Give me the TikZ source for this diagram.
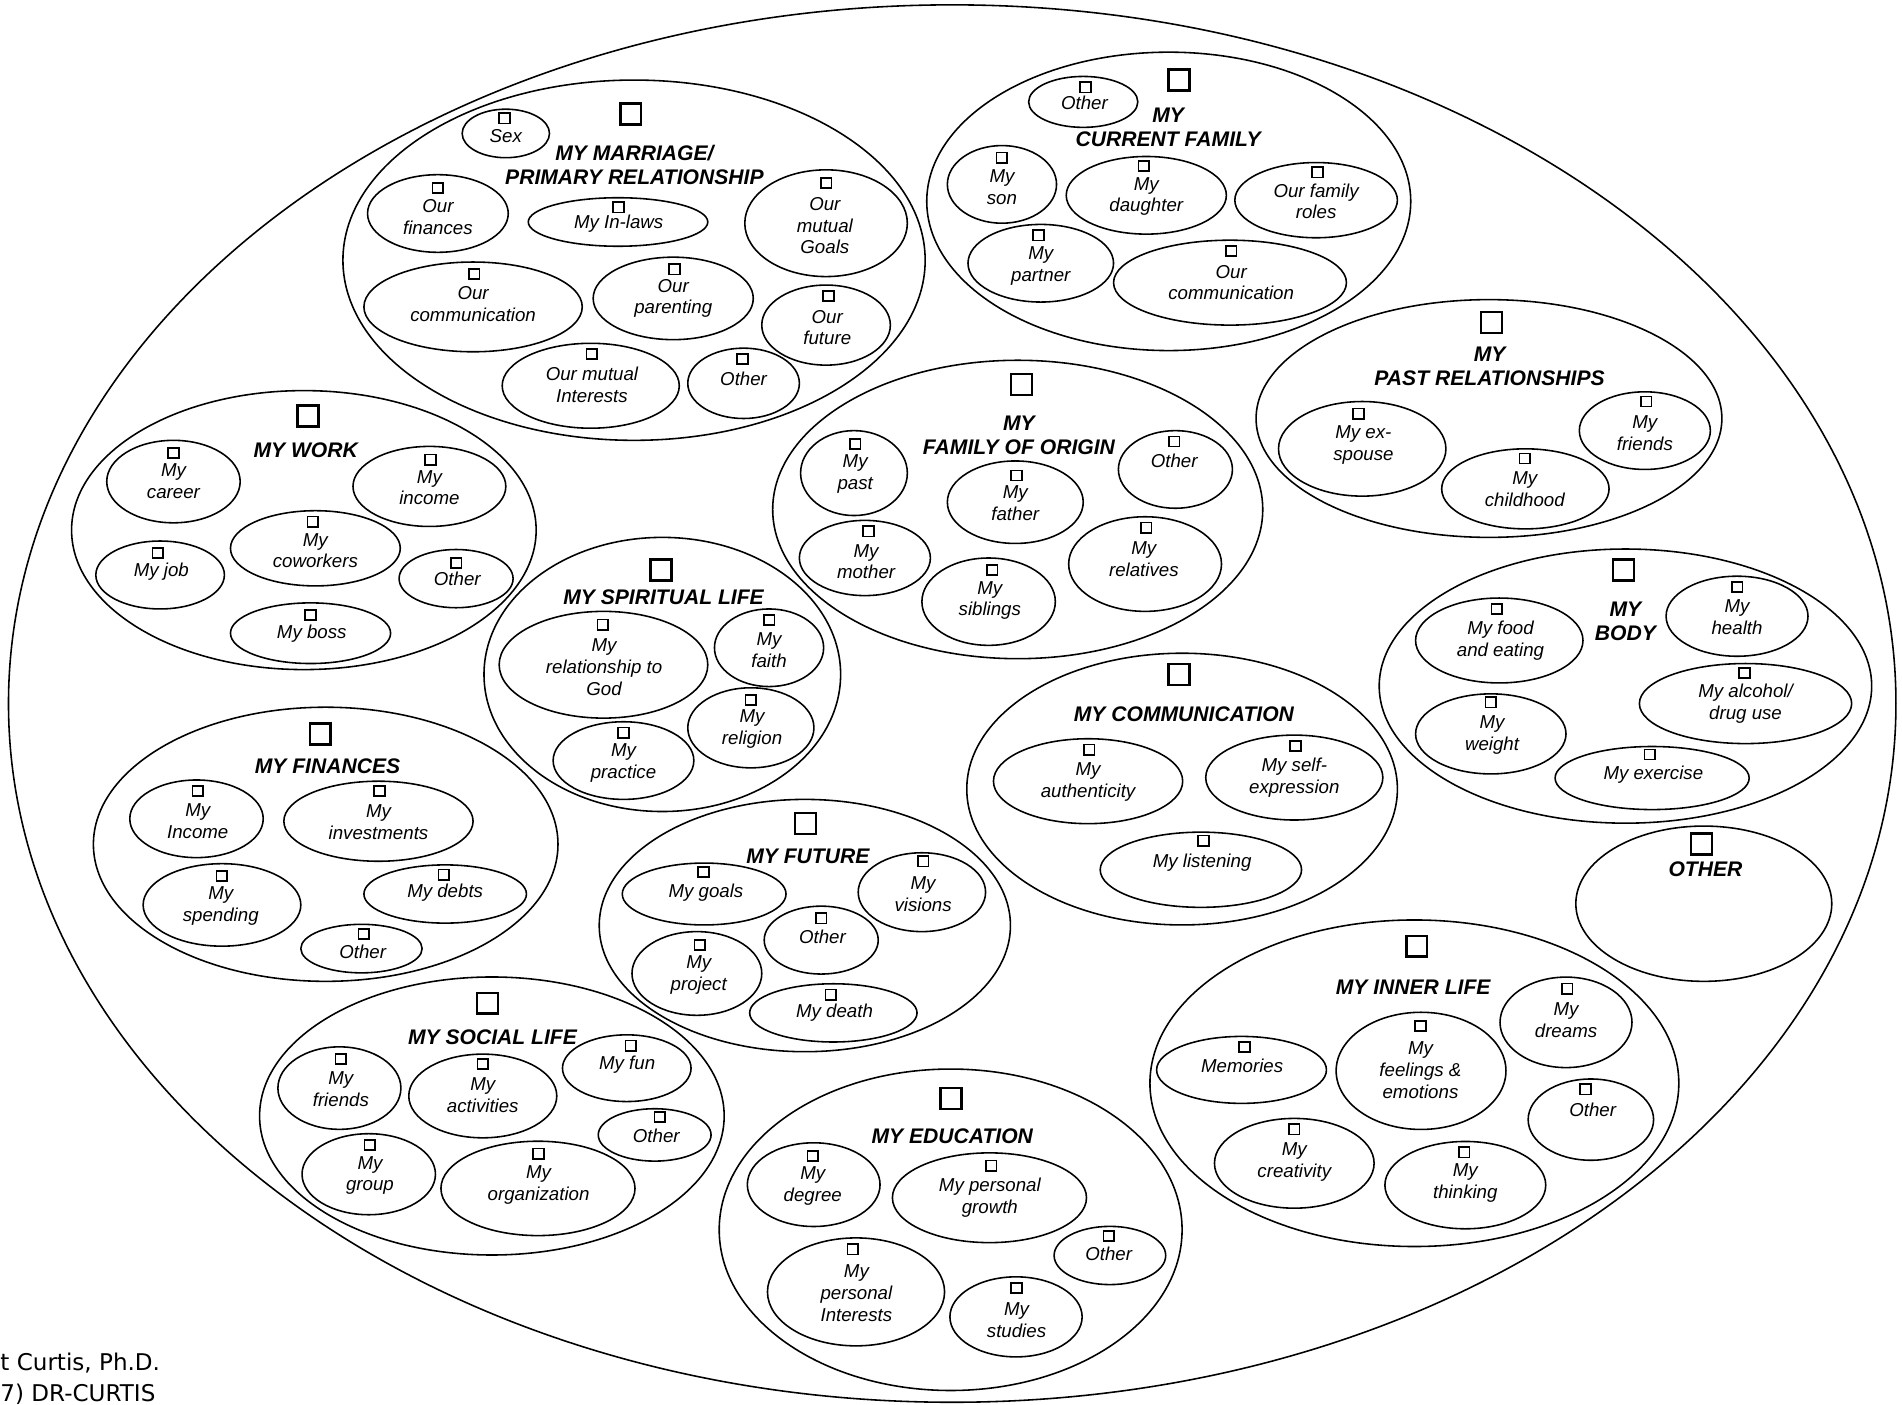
\documentclass[tikz,border=0pt]{standalone}
\usepackage{fontspec}
\setmainfont{Liberation Sans}
\newfontfamily\creditfont{DejaVu Sans}
\usetikzlibrary{shapes.geometric}
\tikzset{
 grp/.style 2 args={ellipse, draw, line width=0.65pt, minimum width=#1pt, minimum height=#2pt, inner sep=0pt},
 itm/.style 2 args={ellipse, draw, line width=0.65pt, minimum width=#1pt, minimum height=#2pt, inner sep=0pt},
 sbox/.style={draw, line width=0.7pt, minimum width=4.4pt, minimum height=4.2pt, inner sep=0pt},
 bbox/.style={draw, line width=1pt, minimum width=8.6pt, minimum height=8.6pt, inner sep=0pt},
 lbl/.style={font=\fontsize{7.7}{9}\selectfont\itshape, align=center, inner sep=0pt},
 ttl/.style={font=\fontsize{8.7}{10}\selectfont\bfseries\itshape, align=center, inner sep=0pt},
 credit/.style={font=\fontsize{9.5}{12}\selectfont\creditfont, inner sep=0pt, anchor=base west},
}
\begin{document}
\begin{tikzpicture}[x=0.5pt,y=-0.5pt]
\useasboundingbox[fill=white] (0,0) rectangle (1568,1158);
% outer
\node[grp={778}{576}] (outer) at (785,580) {};

% marriage
\node[grp={240}{148.5}] (mar) at (522.7,214.5) {};
\node[bbox] (mar-b) at (520,94) {};
\node[ttl] (mar-t) at (523,136) {MY MARRIAGE/\\PRIMARY RELATIONSHIP};
\node[itm={36}{20}] (sex) at (417,110) {};
\node[sbox] (sex-b) at (416,97.5) {};
\node[lbl] (sex-t) at (417,112) {Sex};
\node[itm={58}{32}] (fin) at (361,176) {};
\node[sbox] (fin-b) at (361,155) {};
\node[lbl] (fin-t) at (361,179) {Our\\finances};
\node[itm={74}{20}] (inl) at (509.5,183) {};
\node[sbox] (inl-b) at (510,171) {};
\node[lbl] (inl-t) at (510,184) {My In-laws};
\node[itm={67}{44}] (goa) at (681,184) {};
\node[sbox] (goa-b) at (681,151) {};
\node[lbl] (goa-t) at (680,186) {Our\\mutual\\Goals};
\node[itm={90}{37}] (mcom) at (390,253) {};
\node[sbox] (mcom-b) at (391,226) {};
\node[lbl] (mcom-t) at (390,251) {Our\\communication};
\node[itm={66}{34}] (par) at (555,246) {};
\node[sbox] (par-b) at (556,222) {};
\node[lbl] (par-t) at (555,246) {Our\\parenting};
\node[itm={53}{33}] (fut) at (681,268) {};
\node[sbox] (fut-b) at (683,244) {};
\node[lbl] (fut-t) at (682,270) {Our\\future};
\node[itm={73}{35}] (int) at (487,318) {};
\node[sbox] (int-b) at (488,292) {};
\node[lbl] (int-t) at (488,317) {Our mutual\\Interests};
\node[itm={46}{29}] (moth) at (613,316) {};
\node[sbox] (moth-b) at (612,296) {};
\node[lbl] (moth-t) at (613,312) {Other};

% current family
\node[grp={199.5}{123}] (cf) at (963.5,166) {};
\node[bbox] (cf-b) at (972,66) {};
\node[ttl] (cf-t) at (963,105) {MY\\CURRENT FAMILY};
\node[itm={45}{21}] (cfo) at (893,84) {};
\node[sbox] (cfo-b) at (895,72) {};
\node[lbl] (cfo-t) at (894,85) {Other};
\node[itm={45}{32}] (son) at (826,152) {};
\node[sbox] (son-b) at (826,130) {};
\node[lbl] (son-t) at (826,154) {My\\son};
\node[itm={66}{32}] (dau) at (945,161) {};
\node[sbox] (dau-b) at (943,137) {};
\node[lbl] (dau-t) at (945,162) {My\\daughter};
\node[itm={67}{31}] (rol) at (1085,165) {};
\node[sbox] (rol-b) at (1086,142) {};
\node[lbl] (rol-t) at (1085,166) {Our family\\roles};
\node[itm={60}{32}] (ptn) at (858,217) {};
\node[sbox] (ptn-b) at (856,194) {};
\node[lbl] (ptn-t) at (858,219) {My\\partner};
\node[itm={96}{35}] (cfc) at (1014,233) {};
\node[sbox] (cfc-b) at (1015,207) {};
\node[lbl] (cfc-t) at (1015,233) {Our\\communication};

% past relationships
\node[grp={192}{98}] (pr) at (1227.5,345) {};
\node[bbox] (pr-b) at (1229.5,266) {};
\node[ttl] (pr-t) at (1228,302) {MY\\PAST RELATIONSHIPS};
\node[itm={69}{39}] (exs) at (1123,370) {};
\node[sbox] (exs-b) at (1120,341) {};
\node[lbl] (exs-t) at (1124,367) {My ex-\\spouse};
\node[itm={69}{33}] (chi) at (1257.5,403) {};
\node[sbox] (chi-b) at (1257,378) {};
\node[lbl] (chi-t) at (1257,403) {My\\childhood};
\node[itm={54}{32}] (prf) at (1356,355) {};
\node[sbox] (prf-b) at (1357,331) {};
\node[lbl] (prf-t) at (1356,357) {My\\friends};

% work
\node[grp={191.5}{115}] (wk) at (250.5,437) {};
\node[bbox] (wk-b) at (254,343) {};
\node[ttl] (wk-t) at (252,371) {MY WORK};
\node[itm={55}{34}] (car) at (143,397) {};
\node[sbox] (car-b) at (143,373.5) {};
\node[lbl] (car-t) at (143,397) {My\\career};
\node[itm={63}{33}] (inc) at (354,401) {};
\node[sbox] (inc-b) at (355,379) {};
\node[lbl] (inc-t) at (354,402) {My\\income};
\node[itm={70}{31}] (cow) at (260,452) {};
\node[sbox] (cow-b) at (258,430) {};
\node[lbl] (cow-t) at (260,454) {My\\coworkers};
\node[itm={53}{28}] (job) at (132,474) {};
\node[sbox] (job-b) at (130,456) {};
\node[lbl] (job-t) at (133,471) {My job};
\node[itm={47}{24}] (wko) at (376,477) {};
\node[sbox] (wko-b) at (376,464) {};
\node[lbl] (wko-t) at (377,477) {Other};
\node[itm={66}{25}] (bos) at (256,522) {};
\node[sbox] (bos-b) at (256,507) {};
\node[lbl] (bos-t) at (257,522) {My boss};

% family of origin
\node[grp={202}{123}] (fo) at (839,420) {};
\node[bbox] (fo-b) at (842,317) {};
\node[ttl] (fo-t) at (840,359) {MY\\FAMILY OF ORIGIN};
\node[itm={44}{35}] (pst) at (704,390) {};
\node[sbox] (pst-b) at (705,366) {};
\node[lbl] (pst-t) at (705,391) {My\\past};
\node[itm={56}{34}] (fat) at (837,414) {};
\node[sbox] (fat-b) at (838,392) {};
\node[lbl] (fat-t) at (837,415) {My\\father};
\node[itm={47}{32}] (foo) at (969,387) {};
\node[sbox] (foo-b) at (968,364) {};
\node[lbl] (foo-t) at (968,380) {Other};
\node[itm={54}{31}] (mot) at (713,460) {};
\node[sbox] (mot-b) at (716,438) {};
\node[lbl] (mot-t) at (714,463) {My\\mother};
\node[itm={55}{36}] (sib) at (815,496) {};
\node[sbox] (sib-b) at (818,470) {};
\node[lbl] (sib-t) at (816,495) {My\\siblings};
\node[itm={63}{39}] (rel) at (944,465) {};
\node[sbox] (rel-b) at (945,435) {};
\node[lbl] (rel-t) at (943,461) {My\\relatives};

% spiritual
\node[grp={147}{113}] (sp) at (546,556) {};
\node[bbox] (sp-b) at (545,470) {};
\node[ttl] (sp-t) at (547,492) {MY SPIRITUAL LIFE};
\node[itm={86}{44}] (god) at (497.5,548) {};
\node[sbox] (god-b) at (497,515) {};
\node[lbl] (god-t) at (498,550) {My\\relationship to\\God};
\node[itm={45}{32}] (fai) at (634,534) {};
\node[sbox] (fai-b) at (634,511) {};
\node[lbl] (fai-t) at (634,536) {My\\faith};
\node[itm={52}{33}] (rlg) at (619,600) {};
\node[sbox] (rlg-b) at (619,577) {};
\node[lbl] (rlg-t) at (620,601) {My\\religion};
\node[itm={58}{32}] (pra) at (514,627) {};
\node[sbox] (pra-b) at (514,604) {};
\node[lbl] (pra-t) at (514,629) {My\\practice};

% finances
\node[grp={191.5}{113}] (fn) at (268.5,696) {};
\node[bbox] (fn-b) at (264,605) {};
\node[ttl] (fn-t) at (270,632) {MY FINANCES};
\node[itm={55}{32}] (fni) at (162,675) {};
\node[sbox] (fni-b) at (163,652) {};
\node[lbl] (fni-t) at (163,677) {My\\Income};
\node[itm={78}{33}] (inv) at (312,677) {};
\node[sbox] (inv-b) at (313,652) {};
\node[lbl] (inv-t) at (312,678) {My\\investments};
\node[itm={65}{34}] (spe) at (183,746) {};
\node[sbox] (spe-b) at (183,722) {};
\node[lbl] (spe-t) at (182,747) {My\\spending};
\node[itm={67}{24}] (deb) at (367,737) {};
\node[sbox] (deb-b) at (366,721) {};
\node[lbl] (deb-t) at (367,736) {My debts};
\node[itm={50}{20}] (fno) at (298,782) {};
\node[sbox] (fno-b) at (300,770) {};
\node[lbl] (fno-t) at (299,785) {Other};

% future
\node[grp={169.5}{104}] (fu) at (663.5,763) {};
\node[bbox] (fu-b) at (664,679) {};
\node[ttl] (fu-t) at (666,706) {MY FUTURE};
\node[itm={67.5}{25.5}] (gls) at (580.5,737) {};
\node[sbox] (gls-b) at (580,719) {};
\node[lbl] (gls-t) at (582,736) {My goals};
\node[itm={52.5}{32.5}] (vis) at (760,735.5) {};
\node[sbox] (vis-b) at (761,710) {};
\node[lbl] (vis-t) at (761,737) {My\\visions};
\node[itm={47}{28}] (fuo) at (677,775) {};
\node[sbox] (fuo-b) at (677,757) {};
\node[lbl] (fuo-t) at (678,772) {Other};
\node[itm={53.5}{34.5}] (prj) at (574.5,802.5) {};
\node[sbox] (prj-b) at (577,779) {};
\node[lbl] (prj-t) at (576,804) {My\\project};
\node[itm={69}{24}] (dea) at (687,835) {};
\node[sbox] (dea-b) at (685,820) {};
\node[lbl] (dea-t) at (688,835) {My death};

% communication
\node[grp={177.5}{112}] (cm) at (974.5,650.5) {};
\node[bbox] (cm-b) at (972,556) {};
\node[ttl] (cm-t) at (976,589) {MY COMMUNICATION};
\node[itm={78}{35}] (aut) at (897,644) {};
\node[sbox] (aut-b) at (898,618) {};
\node[lbl] (aut-t) at (897,645) {My\\authenticity};
\node[itm={73}{35}] (sel) at (1067,641) {};
\node[sbox] (sel-b) at (1068,615) {};
\node[lbl] (sel-t) at (1067,641) {My self-\\expression};
\node[itm={83}{31}] (lis) at (990,717) {};
\node[sbox] (lis-b) at (992,693) {};
\node[lbl] (lis-t) at (991,711) {My listening};

% body
\node[grp={203}{113}] (bd) at (1340,565.6) {};
\node[bbox] (bd-b) at (1338.5,470) {};
\node[ttl] (bd-t) at (1340,512) {MY\\BODY};
\node[itm={69}{35}] (foo2) at (1236,528) {};
\node[sbox] (foo2-b) at (1234,502) {};
\node[lbl] (foo2-t) at (1237,528) {My food\\and eating};
\node[itm={58.5}{33}] (hea) at (1432,508) {};
\node[sbox] (hea-b) at (1432,484) {};
\node[lbl] (hea-t) at (1432,509) {My\\health};
\node[itm={87.5}{33}] (alc) at (1439,580) {};
\node[sbox] (alc-b) at (1438,555) {};
\node[lbl] (alc-t) at (1439,580) {My alcohol/\\drug use};
\node[itm={62}{33}] (wei) at (1229,605) {};
\node[sbox] (wei-b) at (1229,579) {};
\node[lbl] (wei-t) at (1230,606) {My\\weight};
\node[itm={80}{26}] (exe) at (1362,641.4) {};
\node[sbox] (exe-b) at (1360,622) {};
\node[lbl] (exe-t) at (1363,639) {My exercise};

% other group
\node[grp={105.5}{64}] (ot) at (1404.6,745) {};
\node[bbox] (ot-b) at (1402.7,695.7) {};
\node[ttl] (ot-t) at (1406,716.6) {OTHER};

% inner life
\node[grp={218}{134.6}] (il) at (1166,893) {};
\node[bbox] (il-b) at (1168,780) {};
\node[ttl] (il-t) at (1165,814) {MY INNER LIFE};
\node[itm={70}{27.6}] (mem) at (1023.5,882) {};
\node[sbox] (mem-b) at (1026,863) {};
\node[lbl] (mem-t) at (1024,879) {Memories};
\node[itm={70}{48.3}] (fee) at (1171.5,882.8) {};
\node[sbox] (fee-b) at (1171,846) {};
\node[lbl] (fee-t) at (1171,882) {My\\feelings \&\\emotions};
\node[itm={54.4}{37.3}] (dre) at (1291,842.8) {};
\node[sbox] (dre-b) at (1292,815) {};
\node[lbl] (dre-t) at (1291,841) {My\\dreams};
\node[itm={51.7}{33.5}] (ilo) at (1311.5,923) {};
\node[sbox] (ilo-b) at (1307,898) {};
\node[lbl] (ilo-t) at (1313,915) {Other};
\node[itm={65.8}{37}] (cre) at (1067,959) {};
\node[sbox] (cre-b) at (1067,931) {};
\node[lbl] (cre-t) at (1067,958) {My\\creativity};
\node[itm={66.3}{36}] (thi) at (1208,977) {};
\node[sbox] (thi-b) at (1207,950) {};
\node[lbl] (thi-t) at (1208,975) {My\\thinking};

% social
\node[grp={191.5}{114.6}] (so) at (405.5,920) {};
\node[bbox] (so-b) at (401.8,827) {};
\node[ttl] (so-t) at (406,855) {MY SOCIAL LIFE};
\node[itm={50.7}{34}] (frd) at (279.8,897) {};
\node[sbox] (frd-b) at (281,873) {};
\node[lbl] (frd-t) at (281,898) {My\\friends};
\node[itm={61}{34.5}] (act) at (398,903.5) {};
\node[sbox] (act-b) at (398,877) {};
\node[lbl] (act-t) at (398,903) {My\\activities};
\node[itm={53}{27.5}] (fun) at (516.7,880.6) {};
\node[sbox] (fun-b) at (520,862) {};
\node[lbl] (fun-t) at (517,878) {My fun};
\node[itm={46.5}{21.6}] (soo) at (539.7,935.6) {};
\node[sbox] (soo-b) at (544,921) {};
\node[lbl] (soo-t) at (541,936) {Other};
\node[itm={55}{33.4}] (grpn) at (304,968) {};
\node[sbox] (grpn-b) at (305,944) {};
\node[lbl] (grpn-t) at (305,969) {My\\group};
\node[itm={80}{38.9}] (org) at (443.5,979.7) {};
\node[sbox] (org-b) at (444,951) {};
\node[lbl] (org-t) at (444,977) {My\\organization};

% education
\node[grp={190.8}{132.5}] (ed) at (783.7,1013.8) {};
\node[bbox] (ed-b) at (784,905.7) {};
\node[ttl] (ed-t) at (785,936.5) {MY EDUCATION};
\node[itm={54.7}{34.5}] (deg) at (670.8,976.6) {};
\node[sbox] (deg-b) at (670,953) {};
\node[lbl] (deg-t) at (670,978) {My\\degree};
\node[itm={80}{37}] (gro) at (815.7,987.4) {};
\node[sbox] (gro-b) at (817,961) {};
\node[lbl] (gro-t) at (816,987) {My personal\\growth};
\node[itm={46}{24}] (edo) at (915,1035) {};
\node[sbox] (edo-b) at (914,1019) {};
\node[lbl] (edo-t) at (914,1034) {Other};
\node[itm={73}{44.5}] (pin) at (705.7,1065) {};
\node[sbox] (pin-b) at (703,1030) {};
\node[lbl] (pin-t) at (706,1066) {My\\personal\\Interests};
\node[itm={54.5}{33}] (stu) at (837.6,1085.6) {};
\node[sbox] (stu-b) at (838,1062) {};
\node[lbl] (stu-t) at (838,1088) {My\\studies};

% credit
\node[credit] (cr1) at (0,1130) {t Curtis, Ph.D.};
\node[credit] (cr2) at (0,1155) {7) DR-CURTIS};
\end{tikzpicture}
\end{document}
